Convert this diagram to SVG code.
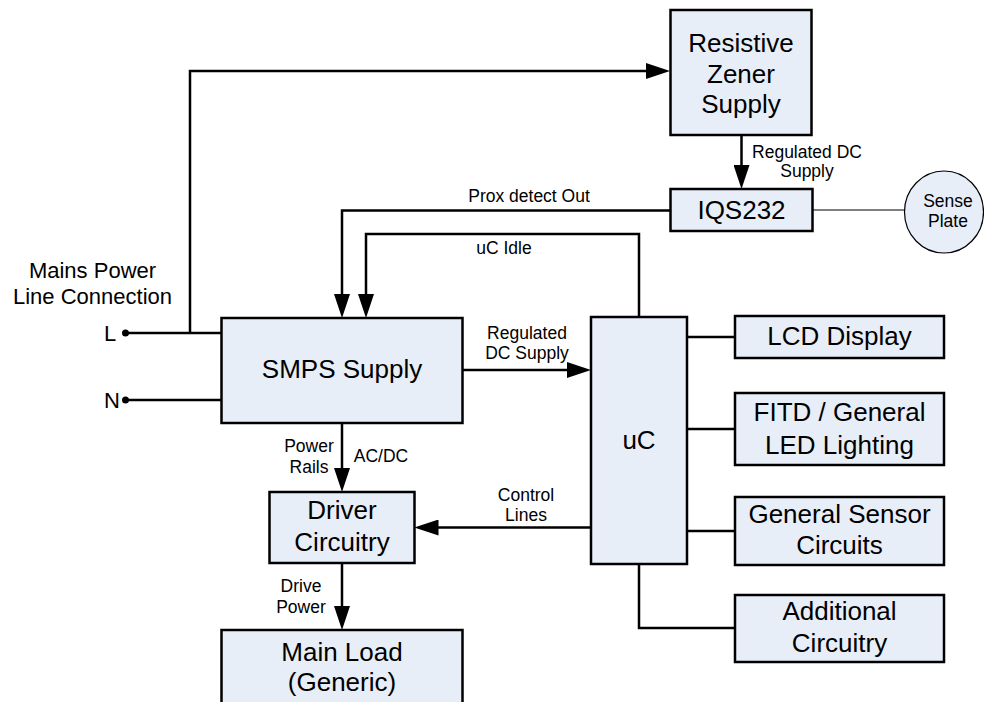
<svg xmlns="http://www.w3.org/2000/svg" width="984" height="702" viewBox="0 0 984 702">
<style>
.box{fill:#E8EEF7;stroke:#000;stroke-width:2.5}
.wire{fill:none;stroke:#000;stroke-width:2.5}
.thin{fill:none;stroke:#000;stroke-width:1.2}
text{font-family:"Liberation Sans",Arial,sans-serif;fill:#000;text-anchor:middle}
.big{font-size:26px}
.mid{font-size:22px}
.sm{font-size:17.5px}
</style>
<defs>
<marker id="arr" markerUnits="userSpaceOnUse" markerWidth="24" markerHeight="16" refX="14" refY="8" orient="auto">
<path d="M0,0 L24,8 L0,16 Z" fill="#000"/>
</marker>
</defs>
<rect width="984" height="702" fill="#fff"/>

<g id="connectors">
<path class="wire" d="M125.5,333 H221.5"/>
<path class="wire" d="M190,333 V71 H660" marker-end="url(#arr)"/>
<path class="wire" d="M125.5,400 H221.5"/>
<path class="wire" d="M741.5,135 V179" marker-end="url(#arr)"/>
<path class="thin" d="M812.5,210 H904.5"/>
<path class="wire" d="M670.5,210.5 H342 V308" marker-end="url(#arr)"/>
<path class="wire" d="M639,317 V234 H366 V308" marker-end="url(#arr)"/>
<path class="wire" d="M462.5,370 H581" marker-end="url(#arr)"/>
<path class="wire" d="M342,423 V482" marker-end="url(#arr)"/>
<path class="wire" d="M591,527.5 H424.5" marker-end="url(#arr)"/>
<path class="wire" d="M342,563 V620" marker-end="url(#arr)"/>
<path class="wire" d="M687,337 H735"/>
<path class="wire" d="M687,429 H735"/>
<path class="wire" d="M687,531 H735"/>
<path class="wire" d="M639,564 V628 H735"/>
<circle cx="125.5" cy="333" r="3.5" fill="#000"/>
<circle cx="125.5" cy="400" r="3.5" fill="#000"/>
</g>

<g id="labels">
<text class="mid" x="92.5" y="278">Mains Power</text>
<text class="mid" x="92.5" y="304">Line Connection</text>
<text class="mid" x="110" y="340.5">L</text>
<text class="mid" x="112" y="407.5">N</text>
<text class="sm" x="807" y="158">Regulated DC</text>
<text class="sm" x="807" y="177">Supply</text>
<text class="sm" x="529" y="202">Prox detect Out</text>
<text class="sm" x="504" y="254">uC Idle</text>
<text class="sm" x="527" y="338.5">Regulated</text>
<text class="sm" x="527" y="359">DC Supply</text>
<text class="sm" x="309" y="451.5">Power</text>
<text class="sm" x="309" y="472.5">Rails</text>
<text class="sm" x="381" y="461.5">AC/DC</text>
<text class="sm" x="526" y="500.5">Control</text>
<text class="sm" x="526" y="520.5">Lines</text>
<text class="sm" x="301" y="591.5">Drive</text>
<text class="sm" x="301" y="613">Power</text>
</g>

<g id="zener">
<rect class="box" x="670.5" y="10" width="141" height="125"/>
<text class="big" x="741" y="52">Resistive</text>
<text class="big" x="741" y="82.5">Zener</text>
<text class="big" x="741" y="113">Supply</text>
</g>

<g id="iqs232">
<rect class="box" x="670.5" y="189" width="142" height="42"/>
<text class="big" x="741.5" y="219">IQS232</text>
</g>

<g id="sense-plate">
<ellipse cx="944" cy="212" rx="39.5" ry="41" fill="#E8EEF7" stroke="#000" stroke-width="1.2"/>
<text class="sm" x="948" y="207">Sense</text>
<text class="sm" x="948" y="227">Plate</text>
</g>

<g id="smps">
<rect class="box" x="221.5" y="318" width="241" height="105"/>
<text class="big" x="342" y="378">SMPS Supply</text>
</g>

<g id="uc">
<rect class="box" x="591" y="317" width="96" height="247"/>
<text class="big" x="639" y="448.5">uC</text>
</g>

<g id="lcd">
<rect class="box" x="735" y="316" width="209" height="42"/>
<text class="big" x="839.5" y="345">LCD Display</text>
</g>

<g id="fitd">
<rect class="box" x="735" y="393" width="209" height="72"/>
<text class="big" x="839.5" y="420.5">FITD / General</text>
<text class="big" x="839.5" y="454">LED Lighting</text>
</g>

<g id="sensor">
<rect class="box" x="735" y="497" width="209" height="68"/>
<text class="big" x="839.5" y="522.5">General Sensor</text>
<text class="big" x="839.5" y="554">Circuits</text>
</g>

<g id="additional">
<rect class="box" x="735" y="595" width="209" height="67"/>
<text class="big" x="839.5" y="620">Additional</text>
<text class="big" x="839.5" y="652">Circuitry</text>
</g>

<g id="driver">
<rect class="box" x="269.5" y="492" width="145" height="71"/>
<text class="big" x="342" y="519">Driver</text>
<text class="big" x="342" y="550.5">Circuitry</text>
</g>

<g id="main-load">
<rect class="box" x="221.5" y="630" width="241" height="80"/>
<text class="big" x="342" y="661">Main Load</text>
<text class="big" x="342" y="691">(Generic)</text>
</g>
</svg>
